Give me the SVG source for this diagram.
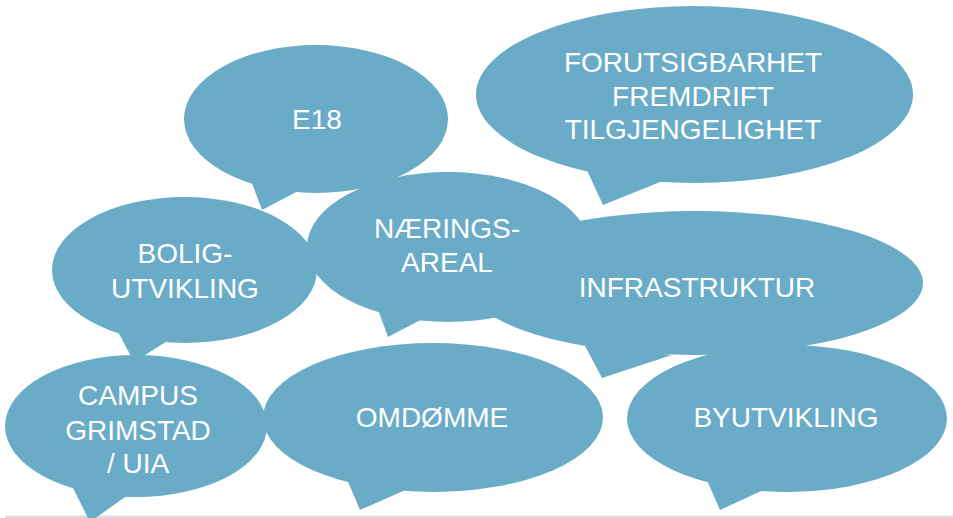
<svg xmlns="http://www.w3.org/2000/svg" width="953" height="518" viewBox="0 0 953 518">
  <style>
    .b { fill: #6aacc7; }
    .t { font-family: "Liberation Sans", Arial, sans-serif; font-size: 28px; fill: #ffffff; text-anchor: middle; }
  </style>
  <rect x="0" y="0" width="953" height="518" fill="#ffffff"/>
  <rect x="5" y="515.5" width="948" height="2.5" fill="#dcdcdc"/>

  <g id="e18">
    <ellipse class="b" cx="316" cy="119" rx="132" ry="74"/>
    <polygon class="b" points="250,178 262,210 300,190"/>
    <text class="t" x="317" y="129">E18</text>
  </g>

  <g id="forutsigbarhet">
    <ellipse class="b" cx="694.5" cy="94.5" rx="218.5" ry="88.5"/>
    <polygon class="b" points="586,168 603,205 670,178"/>
    <text class="t" x="693" y="72">FORUTSIGBARHET</text>
    <text class="t" x="693" y="106">FREMDRIFT</text>
    <text class="t" x="693" y="139">TILGJENGELIGHET</text>
  </g>

  <g id="boligutvikling">
    <ellipse class="b" cx="184.5" cy="270" rx="132.5" ry="73"/>
    <polygon class="b" points="116,328 134,362 172,338"/>
    <text class="t" x="185" y="263">BOLIG-</text>
    <text class="t" x="185" y="298">UTVIKLING</text>
  </g>

  <g id="infrastruktur">
    <ellipse class="b" cx="695" cy="283" rx="228" ry="72"/>
    <polygon class="b" points="584,344 602,378 672,355"/>
    <text class="t" x="697" y="297">INFRASTRUKTUR</text>
  </g>

  <g id="naeringsareal">
    <ellipse class="b" cx="448" cy="247" rx="141" ry="75"/>
    <polygon class="b" points="376,304 388,337 428,316"/>
    <text class="t" x="447" y="238">NÆRINGS-</text>
    <text class="t" x="447" y="272">AREAL</text>
  </g>

  <g id="campus">
    <ellipse class="b" cx="136" cy="426" rx="131" ry="71"/>
    <polygon class="b" points="73,488 90,522 132,492"/>
    <text class="t" x="138" y="405">CAMPUS</text>
    <text class="t" x="138" y="440">GRIMSTAD</text>
    <text class="t" x="138" y="473">/ UIA</text>
  </g>

  <g id="omdomme">
    <ellipse class="b" cx="433" cy="417.5" rx="170" ry="74.5"/>
    <polygon class="b" points="346,477 360,510 410,488"/>
    <text class="t" x="432" y="427">OMDØMME</text>
  </g>

  <g id="byutvikling">
    <ellipse class="b" cx="787" cy="418.5" rx="160" ry="73.5"/>
    <polygon class="b" points="706,478 720,510 768,488"/>
    <text class="t" x="786" y="427">BYUTVIKLING</text>
  </g>
</svg>
